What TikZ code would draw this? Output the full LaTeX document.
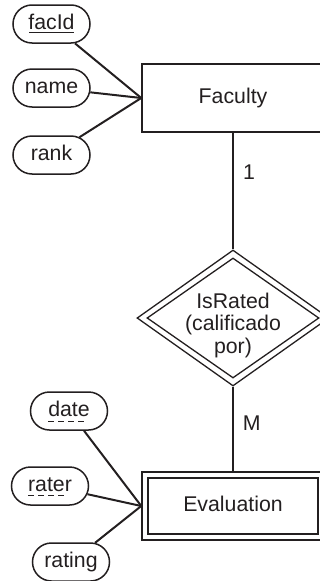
\documentclass[tikz,border=0pt]{standalone}
\usepackage{fontspec}
\setmainfont{Liberation Sans}
\usetikzlibrary{shapes.geometric,shapes.misc}
\definecolor{ink}{RGB}{35,31,32}
\begin{document}
\begin{tikzpicture}[x=1pt,y=-1pt,
  every node/.style={text=ink, font=\fontsize{21.3}{22.5}\selectfont},
  attr/.style={draw=ink, line width=1.5pt, rounded rectangle, minimum width=77pt, minimum height=38pt, inner sep=0pt, text height=10pt, text depth=0pt},
  entbox/.style={draw=ink, line width=1.5pt, rectangle, inner sep=0pt, text height=10pt, text depth=0pt},
  relshape/.style={draw=ink, line width=1.3pt, diamond, inner sep=0pt},
  conn/.style={draw=ink, line width=2pt},
  keyline/.style={draw=ink, line width=1pt},
  partkey/.style={keyline, dash pattern=on 6pt off 4pt}]
\clip (0,0) rectangle (320,581);
% attributes of Faculty
\node[attr] (facid) at (51.5,24) {facId};
\node[attr] (name) at (51.5,88) {name};
\node[attr] (rank) at (51.5,155) {rank};
% Faculty entity
\node[entbox, minimum width=182pt, minimum height=68pt] (fac) at (233,98) {Faculty};
% relationship
\node[relshape, minimum width=192pt, minimum height=136pt] (rel) at (233,318) {};
\node[relshape, minimum width=172pt, minimum height=120pt] (relin) at (233,318) {};
\node[align=center, inner sep=0pt] (reltxt) at (233,325) {IsRated\\(calificado\\por)};
% Evaluation weak entity
\node[entbox, minimum width=182pt, minimum height=68pt] (eval) at (233,506) {};
\node[entbox, minimum width=170pt, minimum height=56pt] (evalin) at (233,506) {Evaluation};
% attributes of Evaluation
\node[attr] (date) at (69,411) {date};
\node[attr] (rater) at (50,486) {rater};
\node[attr] (rating) at (71,562) {rating};
% cardinalities
\node[inner sep=0pt] (one) at (249,172.5) {1};
\node[inner sep=0pt] (many) at (251.7,423.3) {M};
% key underlines
\draw[keyline] ([xshift=-22.5pt,yshift=-8pt]facid.center) -- ([xshift=22.5pt,yshift=-8pt]facid.center);
\draw[partkey] ([xshift=-21pt,yshift=-10.5pt]date.center) -- ([xshift=16pt,yshift=-10.5pt]date.center);
\draw[partkey] ([xshift=-22pt,yshift=-9pt]rater.center) -- ([xshift=15pt,yshift=-9pt]rater.center);
% connectors
\draw[conn] (facid) -- (fac.west);
\draw[conn] (name) -- (fac.west);
\draw[conn] (rank) -- (fac.west);
\draw[conn] (fac.south) -- (rel.north);
\draw[conn] (rel.south) -- (eval.north);
\draw[conn] (date) -- (eval.west);
\draw[conn] (rater) -- (eval.west);
\draw[conn] (rating) -- (eval.west);
\end{tikzpicture}
\end{document}
